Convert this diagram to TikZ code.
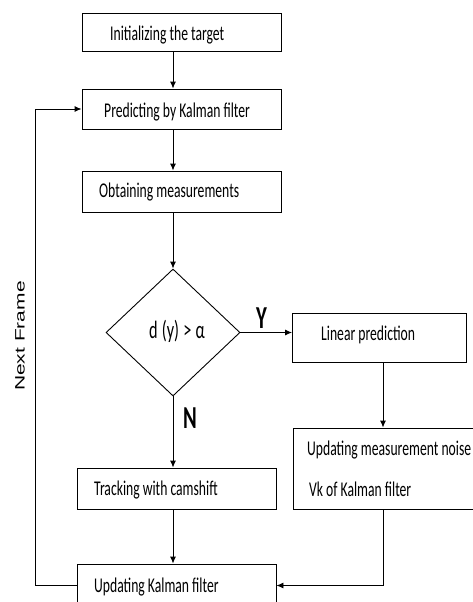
\documentclass[tikz,border=0pt]{standalone}
\usepackage{fontspec}
\usepackage{graphicx}
\usetikzlibrary{shapes.geometric,arrows.meta}
\newfontfamily\calfont[FakeStretch=0.65]{Carlito}
\newfontfamily\arfont{Liberation Sans}
\begin{document}
\begin{tikzpicture}[x=1pt,y=-1pt,
  box/.style={draw, line width=0.9pt, inner sep=0pt},
  txt/.style={font=\calfont\fontsize{21}{25}\selectfont, anchor=base west, inner sep=0pt},
  lbl/.style={font=\calfont\fontsize{32}{36}\selectfont\bfseries, inner sep=0pt},
  arr/.style={line width=0.9pt, -{Latex[length=7pt,width=6pt]}},
  ln/.style={line width=0.9pt}]
\useasboundingbox (0,0) rectangle (473,602);
% boxes
\node[box, minimum width=199pt, minimum height=38pt] (b1) at (181.5,32) {};
\node[box, minimum width=199pt, minimum height=40pt] (b2) at (181.5,109) {};
\node[box, minimum width=199pt, minimum height=41pt] (b3) at (181.5,191.5) {};
\node[box, diamond, minimum width=134pt, minimum height=127pt, aspect=1.05] (dia) at (173,332.5) {};
\node[box, minimum width=173.5pt, minimum height=49pt] (lp) at (379.25,337.5) {};
\node[box, minimum width=187pt, minimum height=81pt] (noise) at (386.5,468.5) {};
\node[box, minimum width=199pt, minimum height=41pt] (track) at (176.5,488.5) {};
\node[box, minimum width=199pt, minimum height=43pt] (upd) at (176.5,585.5) {};
% texts
\node[txt] (t1) at (110,41) {Initializing the target};
\node[txt] (t2) at (104,117) {Predicting by Kalman filter};
\node[txt] (t3) at (99,197) {Obtaining measurements};
\node[font=\calfont\fontsize{25}{29}\selectfont, inner sep=0pt, anchor=base] (td) at (177,338) {d\,(y)\,>\,α};
\node[txt] (tlp) at (321,340) {Linear prediction};
\node[txt] (tn1) at (307,455) {Updating measurement noise};
\node[txt] (tn2) at (309,496) {Vk of Kalman filter};
\node[txt] (ttr) at (94,495) {Tracking with camshift};
\node[txt] (tup) at (94,592) {Updating Kalman filter};
\node[lbl, anchor=base] (ly) at (261.5,328) {Y};
\node[lbl, anchor=base] (lnn) at (190,428) {N};
\node[rotate=90, inner sep=0pt, font=\arfont\fontsize{21}{25}\selectfont] (nf) at (20,336) {\scalebox{1}[0.65]{Next Frame}};
% connectors
\coordinate (ax) at (173,0);
\coordinate (rax) at (383,0);
\coordinate (lx) at (35,0);
\draw[arr] (b1.south -| ax) -- (b2.north -| ax);
\draw[arr] (b2.south -| ax) -- (b3.north -| ax);
\draw[arr] (b3.south -| ax) -- (dia.north);
\draw[arr] (dia.east) -- (dia.east -| lp.west);
\draw[arr] (dia.south) -- (track.north -| dia.south);
\draw[arr] (lp.south -| rax) -- (noise.north -| rax);
\draw[arr] (track.south -| ax) -- (upd.north -| ax);
\draw[arr] (noise.south -| rax) |- (upd.east);
\draw[arr] (upd.west) -| (lx |- b2.west) -- (b2.west);
\end{tikzpicture}
\end{document}
